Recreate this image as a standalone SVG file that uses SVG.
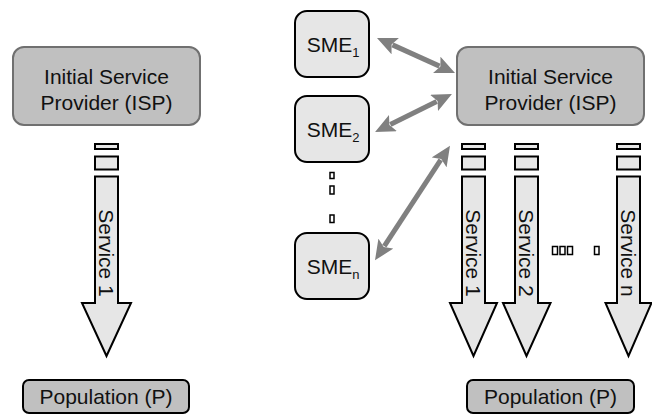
<svg xmlns="http://www.w3.org/2000/svg" width="652" height="415" viewBox="0 0 652 415">
<style>
text{font-family:"Liberation Sans",Arial,sans-serif;fill:#111}
.isp{fill:#c0c0c0;stroke:#707070;stroke-width:2}
.pop{fill:#c0c0c0;stroke:#000;stroke-width:2}
.sme{fill:#e6e6e6;stroke:#000;stroke-width:2}
.arr{fill:#e6e6e6;stroke:#000;stroke-width:2;stroke-linejoin:miter}
.tofu{fill:none;stroke:#000;stroke-width:1.5}
.lbl{font-size:21px;text-anchor:middle}
.conn{stroke:#808080;stroke-width:5;fill:none;marker-end:url(#ah);marker-start:url(#ah)}
</style>
<defs>
<marker id="ah" markerUnits="userSpaceOnUse" markerWidth="20" markerHeight="18" viewBox="0 0 20 18" refX="3" refY="9" orient="auto-start-reverse">
<path d="M0,0 L20,9 L0,18 L4,9 z" fill="#808080"/>
</marker>
</defs>
<g id="isp-left">
<rect class="isp" x="13" y="47" width="187" height="78" rx="11"/>
<text class="lbl" x="106.5" y="84">Initial Service</text>
<text class="lbl" x="106.5" y="110">Provider (ISP)</text>
</g>
<g id="service-left">
<rect class="arr" x="95" y="144" width="23" height="5"/>
<rect class="arr" x="95" y="156.5" width="23" height="13"/>
<path class="arr" d="M95,176.5 H118 V303 H131 L106.5,356 L82,303 H95 Z"/>
<text class="lbl" transform="translate(106.5,253) rotate(90)" y="7.5">Service 1</text>
</g>
<g id="pop-left">
<rect class="pop" x="23" y="380" width="166" height="33" rx="6"/>
<text class="lbl" x="106" y="404">Population (P)</text>
</g>
<g id="sme1">
<rect class="sme" x="295" y="11" width="74" height="66" rx="12"/>
<text class="lbl" x="333" y="51.5">SME<tspan font-size="13" dy="5">1</tspan></text>
</g>
<g id="sme2">
<rect class="sme" x="295" y="96" width="74" height="66" rx="12"/>
<text class="lbl" x="333" y="137">SME<tspan font-size="13" dy="5">2</tspan></text>
</g>
<g id="smen">
<rect class="sme" x="295" y="233" width="74" height="66" rx="12"/>
<text class="lbl" x="333" y="273.5">SME<tspan font-size="13" dy="5">n</tspan></text>
</g>
<g id="sme-dots">
<rect class="tofu" x="330" y="172.5" width="4" height="6"/>
<rect class="tofu" x="330" y="186" width="4" height="8"/>
<rect class="tofu" x="330" y="215" width="4" height="7.5"/>
</g>
<g id="isp-right">
<rect class="isp" x="457" y="47" width="187" height="78" rx="11"/>
<text class="lbl" x="550.5" y="84">Initial Service</text>
<text class="lbl" x="550.5" y="110">Provider (ISP)</text>
</g>
<g id="service-1">
<rect class="arr" x="462" y="144" width="23" height="5"/>
<rect class="arr" x="462" y="156.5" width="23" height="13"/>
<path class="arr" d="M462,176.5 H485 V303 H497 L473.5,356 L450,303 H462 Z"/>
<text class="lbl" transform="translate(473.5,253) rotate(90)" y="7.5">Service 1</text>
</g>
<g id="service-2">
<rect class="arr" x="515" y="144" width="23" height="5"/>
<rect class="arr" x="515" y="156.5" width="23" height="13"/>
<path class="arr" d="M515,176.5 H538 V303 H550.5 L526.5,356 L503,303 H515 Z"/>
<text class="lbl" transform="translate(526.5,253) rotate(90)" y="7.5">Service 2</text>
</g>
<g id="service-n">
<rect class="arr" x="617" y="144" width="23" height="5"/>
<rect class="arr" x="617" y="156.5" width="23" height="13"/>
<path class="arr" d="M617,176.5 H640 V303 H651.5 L628.5,356 L605.5,303 H617 Z"/>
<text class="lbl" transform="translate(628.5,253) rotate(90)" y="7.5">Service n</text>
</g>
<g id="service-dots">
<rect class="tofu" x="552.5" y="246.5" width="5" height="8"/>
<rect class="tofu" x="560" y="246.5" width="5" height="8"/>
<rect class="tofu" x="567.5" y="246.5" width="5" height="8"/>
<rect class="tofu" x="594.5" y="246.5" width="4.5" height="8"/>
</g>
<g id="pop-right">
<rect class="pop" x="467" y="380" width="167" height="33" rx="6"/>
<text class="lbl" x="550.5" y="404">Population (P)</text>
</g>
<g id="connectors">
<line class="conn" x1="392.5" y1="44.9" x2="439.5" y2="66.1"/>
<line class="conn" x1="390.3" y1="124.5" x2="436.7" y2="101.5"/>
<line class="conn" x1="384.3" y1="246.1" x2="440.7" y2="159.9"/>
</g>
</svg>
